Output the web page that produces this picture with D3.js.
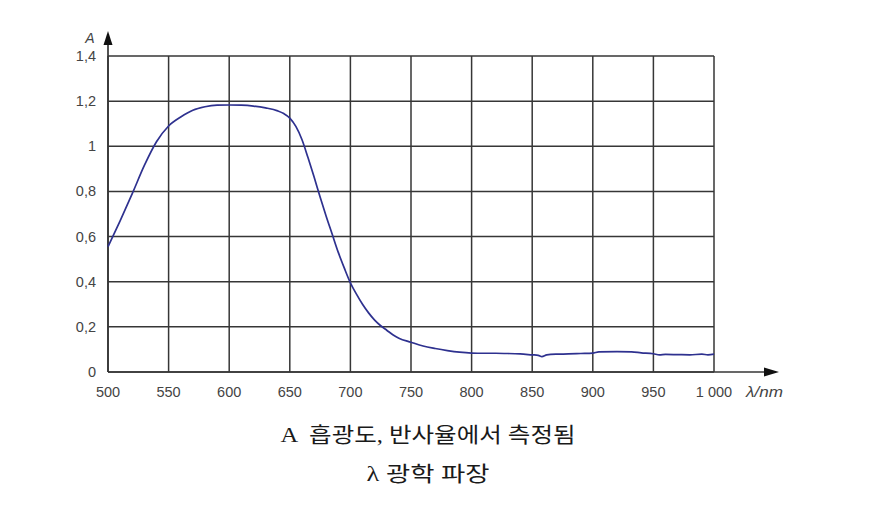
<!DOCTYPE html>
<html><head><meta charset="utf-8">
<script src="https://cdn.jsdelivr.net/npm/d3@7"></script>
<style>body{margin:0;background:#fff}svg{display:block}</style>
</head><body>
<svg id="c" width="872" height="522"></svg>
<script>
const wavelengths = [500,510,520,530,540,550,560,570,580,590,600,610,620,630,640,645,650,655,660,665,670,675,680,685,690,695,700,705,710,715,720,725,730,735,740,750,760,770,780,790,800,810,820,830,840,850,855,858,862,870,880,890,900,905,920,932,940,950,955,960,970,980,990,995,1000];
const absorbance = [0.555,0.67,0.79,0.915,1.02,1.09,1.13,1.16,1.175,1.182,1.183,1.182,1.178,1.17,1.157,1.145,1.125,1.088,1.03,0.95,0.865,0.775,0.69,0.61,0.53,0.46,0.395,0.345,0.30,0.262,0.23,0.205,0.185,0.165,0.15,0.132,0.115,0.104,0.095,0.088,0.084,0.083,0.083,0.082,0.080,0.076,0.074,0.068,0.076,0.079,0.080,0.082,0.084,0.089,0.090,0.089,0.085,0.081,0.076,0.078,0.077,0.076,0.079,0.076,0.079];
const xTicks = [500,550,600,650,700,750,800,850,900,950,1000];
const xTickLabels = ["500","550","600","650","700","750","800","850","900","950","1 000"];
const yTicks = [0,0.2,0.4,0.6,0.8,1,1.2,1.4];
const yTickLabels = ["0","0,2","0,4","0,6","0,8","1","1,2","1,4"];
const yAxisLabel = "A";
const xAxisLabel = "λ/nm";
const captionLines = ["A  흡광도, 반사율에서 측정됨", "λ 광학 파장"];

const svg = d3.select("#c");
const x = d3.scaleLinear().domain([500,1000]).range([108,714]);
const y = d3.scaleLinear().domain([0,1.4]).range([372,56]);
const gridColor = "#363636";
const txtColor = "#444";
const sans = "Liberation Sans, Arial, sans-serif";

// grid
svg.append("g").selectAll("line").data(xTicks).join("line")
  .attr("x1",d=>x(d)).attr("x2",d=>x(d)).attr("y1",y(0)).attr("y2",y(1.4))
  .attr("stroke",gridColor).attr("stroke-width",1.5);
svg.append("g").selectAll("line").data(yTicks).join("line")
  .attr("x1",x(500)).attr("x2",x(1000)).attr("y1",d=>y(d)).attr("y2",d=>y(d))
  .attr("stroke",gridColor).attr("stroke-width",1.5);

// axes with arrows
svg.append("line").attr("x1",x(500)).attr("x2",x(500)).attr("y1",y(0)).attr("y2",42)
  .attr("stroke",gridColor).attr("stroke-width",1.7);
svg.append("path").attr("d",`M${x(500)-4.5},45 L${x(500)},31 L${x(500)+4.5},45 Z`).attr("fill","#111");
svg.append("line").attr("x1",x(500)).attr("x2",768).attr("y1",y(0)).attr("y2",y(0))
  .attr("stroke",gridColor).attr("stroke-width",1.7);
svg.append("path").attr("d",`M764,${y(0)-4.5} L779,${y(0)} L764,${y(0)+4.5} Z`).attr("fill","#111");

// tick labels
svg.append("g").selectAll("text").data(xTicks).join("text")
  .attr("x",d=>x(d)).attr("y",397).attr("text-anchor","middle")
  .attr("font-family",sans).attr("font-size",14.5).attr("fill",txtColor)
  .text((d,i)=>xTickLabels[i]);
svg.append("g").selectAll("text").data(yTicks).join("text")
  .attr("x",96).attr("y",d=>y(d)+5).attr("text-anchor","end")
  .attr("font-family",sans).attr("font-size",14.5).attr("fill",txtColor)
  .text((d,i)=>yTickLabels[i]);
svg.append("text").attr("x",90).attr("y",43).attr("text-anchor","middle")
  .attr("font-family",sans).attr("font-size",14).attr("font-style","italic").attr("fill",txtColor)
  .text(yAxisLabel);
svg.append("text").attr("x",746).attr("y",397)
  .attr("font-family",sans).attr("font-size",14.5).attr("font-style","italic").attr("fill",txtColor)
  .attr("textLength",37).attr("lengthAdjust","spacingAndGlyphs")
  .text(xAxisLabel);

// curve
const line = d3.line().x((d,i)=>x(wavelengths[i])).y(d=>y(d)).curve(d3.curveMonotoneX);
svg.append("path").datum(absorbance).attr("d",line)
  .attr("fill","none").attr("stroke","#2e318f").attr("stroke-width",1.7);

// caption
const capWidths = [295,123];
svg.append("g").selectAll("text").data(captionLines).join("text")
  .attr("x",428).attr("y",(d,i)=>442+i*39).attr("text-anchor","middle")
  .attr("font-family","Liberation Serif, Noto Sans CJK KR, serif").attr("font-size",21).attr("fill","#1a1a1a")
  .style("white-space","pre")
  .attr("textLength",(d,i)=>capWidths[i]).attr("lengthAdjust","spacingAndGlyphs")
  .text(d=>d);
</script>
</body></html>
